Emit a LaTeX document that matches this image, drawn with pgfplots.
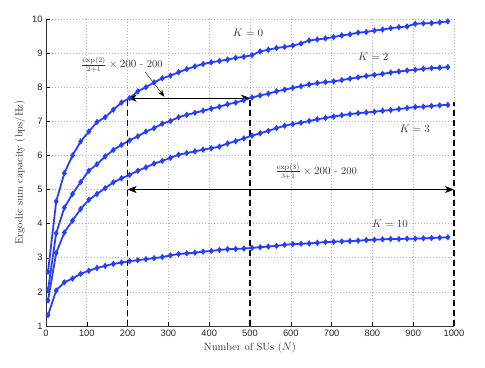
\documentclass[border=0pt]{standalone}
\usepackage{pgfplots}
\pgfplotsset{compat=1.18}
\usepackage{fontspec}
\newfontfamily\helv{Liberation Sans}
\usetikzlibrary{arrows.meta}

\definecolor{curve}{RGB}{40,62,255}

% simulated ergodic sum capacity, N = 5, 25, ..., 985
\pgfplotstableread{
N    K0    K2    K3    K10
5    2.59  2.06  1.75  1.32
25   4.65  3.72  3.14  2.04
45   5.48  4.47  3.74  2.28
65   6.00  4.87  4.09  2.39
85   6.41  5.22  4.43  2.53
105  6.70  5.55  4.70  2.62
125  6.98  5.74  4.87  2.70
145  7.12  5.97  5.04  2.76
165  7.34  6.16  5.21  2.82
185  7.55  6.31  5.33  2.86
205  7.68  6.44  5.43  2.90
225  7.88  6.56  5.55  2.93
245  8.00  6.70  5.65  2.96
265  8.14  6.80  5.76  2.99
285  8.26  6.93  5.84  3.02
305  8.34  7.01  5.93  3.07
325  8.44  7.12  6.02  3.11
345  8.53  7.19  6.07  3.13
365  8.61  7.25  6.12  3.15
385  8.68  7.31  6.17  3.18
405  8.73  7.37  6.21  3.20
425  8.77  7.43  6.26  3.23
445  8.81  7.50  6.35  3.25
465  8.86  7.55  6.42  3.26
485  8.89  7.62  6.50  3.27
505  8.94  7.70  6.58  3.29
525  9.05  7.76  6.65  3.31
545  9.10  7.81  6.72  3.33
565  9.15  7.88  6.80  3.35
585  9.18  7.93  6.87  3.38
605  9.22  7.98  6.92  3.40
625  9.28  8.03  6.96  3.41
645  9.37  8.08  7.01  3.42
665  9.40  8.12  7.06  3.44
685  9.43  8.15  7.10  3.46
705  9.47  8.17  7.14  3.47
725  9.52  8.21  7.18  3.48
745  9.55  8.25  7.21  3.49
765  9.60  8.29  7.24  3.50
785  9.62  8.33  7.26  3.52
805  9.66  8.36  7.28  3.53
825  9.69  8.39  7.31  3.54
845  9.73  8.43  7.33  3.55
865  9.76  8.46  7.36  3.55
885  9.78  8.49  7.39  3.56
905  9.86  8.51  7.42  3.56
925  9.87  8.54  7.43  3.57
945  9.88  8.56  7.45  3.58
965  9.90  8.57  7.47  3.59
985  9.93  8.59  7.48  3.60
}\capdata

\begin{document}
\begin{tikzpicture}
\begin{axis}[
  scale only axis,
  width=408pt, height=307pt,
  xmin=0, xmax=1000, ymin=1, ymax=10,
  xtick={0,100,...,1000}, ytick={1,2,...,10},
  axis x line*=bottom, axis y line*=left,
  tick align=inside,
  major tick length=4pt,
  tick style={black, line width=0.5pt},
  axis line style={black!80, line width=0.6pt},
  grid=major,
  major grid style={black!30, dash pattern=on 0.6pt off 2.4pt, line width=0.6pt},
  /pgf/number format/assume math mode=true,
  /pgf/number format/set thousands separator={},
  tick label style={font=\helv\fontsize{9.3}{10}\selectfont, text=black!85},
  xlabel={Number of SUs ($N$)},
  ylabel={Ergodic sum capacity (bps/Hz)},
  label style={font=\fontsize{10.5}{12}\selectfont, text=black!80},
  clip=false,
]
\pgfplotsset{capstyle/.style={curve, line width=1.8pt, mark=diamond*,
  mark size=2.6pt, mark options={fill=curve, line width=0.8pt}}}
\addplot[capstyle] table[x=N, y=K0] {\capdata};
\addplot[capstyle] table[x=N, y=K2] {\capdata};
\addplot[capstyle] table[x=N, y=K3] {\capdata};
\addplot[capstyle] table[x=N, y=K10] {\capdata};

% dashed guides
\addplot[black, line width=1.8pt, dash pattern=on 6pt off 4pt]
  coordinates {(200,1) (200,7.66)};
\addplot[black, line width=1.8pt, dash pattern=on 6pt off 4pt]
  coordinates {(500,1) (500,7.70)};
\addplot[black, line width=1.8pt, dash pattern=on 6pt off 4pt]
  coordinates {(1000,1) (1000,7.58)};

% double arrows
\addplot[black, line width=0.8pt, {Stealth[length=9pt,width=7pt,inset=2.5pt]}-{Stealth[length=9pt,width=7pt,inset=2.5pt]}]
  coordinates {(200,7.68) (500,7.68)};
\addplot[black, line width=0.8pt, {Stealth[length=9pt,width=7pt,inset=2.5pt]}-{Stealth[length=9pt,width=7pt,inset=2.5pt]}]
  coordinates {(200,5.0) (1000,5.0)};
\addplot[black, line width=0.4pt, -{Stealth[length=7pt,width=5pt,inset=2pt]}]
  coordinates {(243,8.45) (290,7.72)};

\node[font=\fontsize{10.5}{12}\selectfont, text=black!80] at (axis cs:186,8.66)
  {$\frac{\exp(2)}{2+1}\times 200$ - 200};
\node[font=\fontsize{10.5}{12}\selectfont, text=black!80] at (axis cs:662,5.53)
  {$\frac{\exp(3)}{3+1}\times 200$ - 200};

\node[font=\fontsize{11}{12}\selectfont, text=black!80] at (axis cs:495,9.6) {$K=0$};
\node[font=\fontsize{11}{12}\selectfont, text=black!80] at (axis cs:802,8.9) {$K=2$};
\node[font=\fontsize{11}{12}\selectfont, text=black!80] at (axis cs:904,6.77) {$K=3$};
\node[font=\fontsize{11}{12}\selectfont, text=black!80] at (axis cs:843,4.0) {$K=10$};
\end{axis}
\pgfresetboundingbox
\path (current axis.south west) ++(-46pt,-42pt) coordinate (bbA);
\path (current axis.north east) ++(31pt,19pt) coordinate (bbB);
\path[use as bounding box] (bbA) rectangle (bbB);
\end{tikzpicture}
\end{document}
